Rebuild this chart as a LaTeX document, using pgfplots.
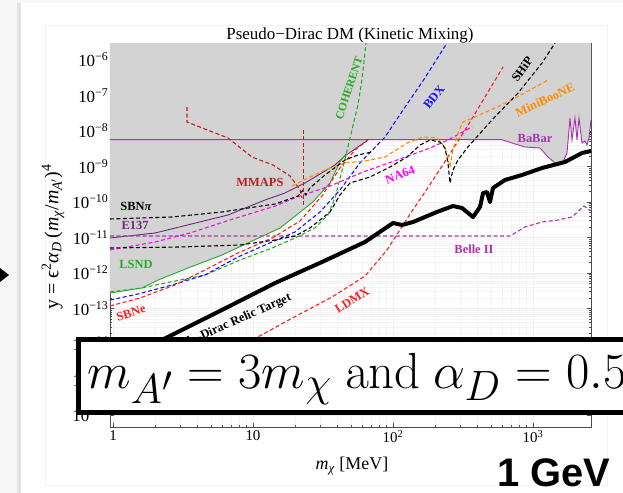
\documentclass[border=0pt]{standalone}
\usepackage[no-math]{fontspec}
\setmainfont{Liberation Serif}
\newfontfamily\arialfont{Liberation Sans}
\usepackage{pgfplots}
\pgfplotsset{compat=1.18}
\definecolor{babar}{RGB}{170,50,175}
\definecolor{eonethree}{RGB}{110,40,120}
\definecolor{grn}{RGB}{40,170,40}
\definecolor{blu}{RGB}{20,20,255}
\definecolor{rd}{RGB}{255,30,30}
\definecolor{mmaps}{RGB}{190,30,30}
\definecolor{org}{RGB}{255,140,0}
\definecolor{mag}{RGB}{255,0,255}
\definecolor{fillgray}{RGB}{211,211,211}
\tikzset{dsh/.style={dash pattern=on 4bp off 2.5bp, line width=1.1bp}}
\begin{document}
\begin{tikzpicture}
\path[use as bounding box] (0,0) rectangle (623bp,493bp);
\begin{scope}[x=1bp,y=-1bp,shift={(0bp,493bp)}]
\fill[gray!6] (0,0) rectangle (623,493);
\fill[gray!22] (17,3) rectangle (623,493);
\fill[white] (21,3) rectangle (623,493);
\draw[gray!10, line width=0.6bp] (45,25) rectangle (607,485);
\end{scope}
\begin{axis}[
  at={(110bp,66bp)}, anchor=south west,
  scale only axis, width=481bp, height=384bp,
  xmode=log, ymode=log,
  xmin=0.952, xmax=2596, ymin=4.59e-17, ymax=3.01e-6,
  axis line style={gray!60!black, line width=0.5pt},
  grid=both,
  major grid style={gray!13, line width=0.4pt},
  minor grid style={gray!9, line width=0.4pt},
  tick align=inside, major tick length=4bp, minor tick length=2.5bp,
  tick style={gray!60!black, line width=0.4pt},
  xtick={1,10,100,1000},
  xticklabels={1,10,10\textsuperscript{2},10\textsuperscript{3}},
  ytick={1e-16,1e-15,1e-14,1e-13,1e-12,1e-11,1e-10,1e-9,1e-8,1e-7,1e-6},
  yticklabels={10\textsuperscript{−16},10\textsuperscript{−15},10\textsuperscript{−14},10\textsuperscript{−13},10\textsuperscript{−12},10\textsuperscript{−11},10\textsuperscript{−10},10\textsuperscript{−9},10\textsuperscript{−8},10\textsuperscript{−7},10\textsuperscript{−6}},
  yticklabel style={font=\fontsize{17}{17}\selectfont, inner sep=1.5bp},
  xticklabel style={font=\fontsize{15}{15}\selectfont},
  clip=true,
]
% excluded region
\addplot[fill=fillgray, draw=none, forget plot] coordinates {(0.952,3.01e-6)(0.952,2.73e-13)(1.61,3.78e-13)(2.10,6.35e-13)(3.43,1.38e-12)(6.00,3.21e-12)(9.52,7.47e-12)(15.6,1.85e-11)(26.8,1.00e-10)(35.5,3.43e-10)(41.8,1.34e-9)(46.2,2.25e-9)(63.1,4.89e-9)(66.3,5.69e-9)(600,5.69e-9)(744,4.30e-9)(877,3.54e-9)(1122,3.32e-9)(1280,1.85e-9)(1436,1.26e-9)(1611,1.18e-9)(1750,2.40e-9)(1838,2.32e-8)(1899,5.58e-9)(1995,2.32e-8)(2062,5.58e-9)(2131,2.32e-8)(2239,4.59e-9)(2351,5.22e-9)(2430,4.03e-9)(2512,6.35e-9)(2596,2.04e-8)(2596,3.01e-6)};
% BaBar
\addplot[babar, line width=0.9bp] coordinates {(0.952,5.69e-9)(600,5.69e-9)(744,4.30e-9)(877,3.54e-9)(1122,3.32e-9)(1280,1.85e-9)(1436,1.26e-9)(1611,1.18e-9)(1750,2.40e-9)(1838,2.32e-8)(1899,5.58e-9)(1995,2.32e-8)(2062,5.58e-9)(2131,2.32e-8)(2239,4.59e-9)(2351,5.22e-9)(2430,4.03e-9)(2512,6.35e-9)(2596,2.04e-8)};
% E137
\addplot[eonethree, line width=0.9bp] coordinates {(0.952,9.68e-12)(2.0,1.34e-11)(6.63,4.30e-11)(12.2,1.14e-10)(16.9,1.79e-10)(23.5,3.43e-10)(30.1,6.15e-10)(38.5,1.10e-9)(45.4,1.98e-9)(63.1,4.89e-9)(66.3,5.69e-9)};
% LSND
\addplot[grn, line width=0.9bp] coordinates {(0.952,2.73e-13)(1.61,3.78e-13)(2.10,6.35e-13)(3.43,1.38e-12)(6.00,3.21e-12)(9.52,7.47e-12)(15.6,1.85e-11)(26.8,1.00e-10)(35.5,3.43e-10)(41.8,1.34e-9)(46.2,2.25e-9)};
% Belle II
\addplot[babar, dsh] coordinates {(0.952,1.10e-11)(685,1.10e-11)(877,1.98e-11)(1160,2.73e-11)(1509,3.11e-11)(1899,3.78e-11)(2313,7.71e-11)(2596,5.58e-11)};
% COHERENT
\addplot[grn, dsh] coordinates {(0.952,2.92e-13)(1.61,3.78e-13)(2.77,5.96e-13)(4.54,8.79e-13)(8.08,2.32e-12)(13.7,5.06e-12)(19.95,9.68e-12)(27.7,1.85e-11)(34.3,4.30e-11)(38.5,1.30e-10)(42.5,5.77e-10)(46.2,2.11e-9)(50.9,1.07e-8)(56.2,5.40e-8)(60.0,2.73e-7)(64.1,3.01e-6)};
% BDX
\addplot[blu, dsh] coordinates {(0.952,1.73e-13)(1.51,2.56e-13)(2.64,4.59e-13)(4.54,8.79e-13)(7.81,2.82e-12)(12.2,6.15e-12)(19.95,1.43e-11)(30.1,5.23e-11)(41.8,2.18e-10)(58.1,1.26e-9)(87.7,6.78e-9)(122,4.74e-8)(169,3.11e-7)(243,3.01e-6)};
% SBNe
\addplot[rd, dsh] coordinates {(0.952,1.18e-13)(1.56,1.98e-13)(2.77,4.59e-13)(4.54,1.22e-12)(7.81,3.66e-12)(13.7,9.68e-12)(21.7,2.92e-11)(31.1,1.48e-10)(41.8,9.07e-10)(53.5,2.92e-9)(66.3,5.58e-9)};
% LDMX
\addplot[rd, dsh] coordinates {(6.85,5.96e-15)(12.2,2.04e-14)(21.0,6.56e-14)(36.7,2.11e-13)(63.1,8.22e-13)(90.6,4.45e-12)(134,4.90e-11)(187,3.43e-10)(239,1.52e-9)(338,1.30e-8)(454,9.08e-8)(611,6.36e-7)};
% NA64
\addplot[mag, dsh] coordinates {(0.952,4.45e-12)(2.0,7.47e-12)(3.55,1.34e-11)(6.85,3.11e-11)(14.4,7.71e-11)(20.6,1.38e-10)(35.5,2.82e-10)(61.1,7.00e-10)(107,1.52e-9)(184,3.32e-9)(247,5.58e-9)(367,1.30e-8)};
% MiniBooNE
\addplot[org, dsh] coordinates {(19.0,2.82e-10)(25.5,5.06e-10)(35.5,9.07e-10)(45.4,1.26e-9)(63.1,1.43e-9)(87.7,1.85e-9)(126,4.59e-9)(164,6.78e-9)(206,6.35e-9)(235,3.54e-9)(255,9.68e-10)(268,2.92e-9)(291,8.79e-9)(316,1.79e-8)(385,2.48e-8)(663,6.56e-8)(1280,2.73e-7)};
% SBN pi
\addplot[black, dsh] coordinates {(0.952,3.32e-11)(2.64,3.78e-11)(6.00,5.23e-11)(10.3,7.23e-11)(14.4,8.79e-11)(21.0,1.48e-10)(22.8,2.18e-10)(23.9,1.58e-10)(25.5,2.48e-10)(32.7,5.77e-10)(45.4,1.52e-9)(56.2,2.11e-9)(70.8,2.56e-9)};
% SHiP
\addplot[black, dsh] coordinates {(0.952,5.06e-12)(3.01,5.40e-12)(8.08,6.15e-12)(14.4,8.51e-12)(19.95,1.10e-11)(25.5,1.85e-11)(35.5,5.23e-11)(41.8,1.58e-10)(49.3,3.43e-10)(68.5,5.06e-10)(95.2,9.68e-10)(126,1.85e-9)(156,4.03e-9)(184,5.58e-9)(217,4.89e-9)(235,3.32e-9)(247,1.26e-9)(255,3.43e-10)(268,7.97e-10)(291,1.52e-9)(343,3.54e-9)(509,2.04e-8)(781,1.17e-7)(1160,8.23e-7)(1436,3.01e-6)};
% MMAPS
\addplot[mmaps, dsh] coordinates {(3.38,4.74e-8)(3.38,1.79e-8)(6.63,6.35e-9)(9.84,1.85e-9)(13.9,1.10e-9)(18.4,5.40e-10)(21.7,2.18e-10)(22.4,1.3e-10)};
\addplot[mmaps, dsh] coordinates {(23.1,1.07e-8)(23.1,7.23e-11)};
% Relic target
\addplot[black, line width=4bp, line join=round] coordinates {(0.952,2.40e-15)(2.24,1.30e-14)(5.81,8.51e-14)(14.4,5.23e-13)(31.1,2.04e-12)(63.1,7.47e-12)(100,2.56e-11)(116,2.25e-11)(139,2.73e-11)(206,5.23e-11)(268,7.71e-11)(311,6.78e-11)(373,3.78e-11)(418,7.23e-11)(440,1.79e-10)(469,1.91e-10)(493,1.00e-10)(518,2.48e-10)(631,4.17e-10)(835,5.77e-10)(1160,9.07e-10)(1693,1.34e-9)(2239,2.40e-9)(2596,2.73e-9)};
\end{axis}
\begin{scope}[x=1bp,y=-1bp,shift={(0bp,493bp)}]
\fill[black] (0,268) -- (9,275) -- (0,282) -- cycle;
\node[anchor=base, font=\fontsize{17}{17}\selectfont] at (350,40) {Pseudo−Dirac DM (Kinetic Mixing)};
\node[rotate=90, font=\fontsize{20}{20}\selectfont] at (53,237) {y = ϵ\textsuperscript{2}\textit{α}\textsubscript{\textit{D}}\,(\textit{m}\textsubscript{\textit{χ}}/\textit{m}\textsubscript{\textit{A}$'$})\textsuperscript{4}};
\node[font=\fontsize{18}{18}\selectfont] at (352,466) {\textit{m}\textsubscript{\textit{χ}} [MeV]};
\begin{scope}[every node/.style={font=\fontsize{12.5}{13}\selectfont\bfseries, inner sep=0}]
\node at (136,206) {SBN\textit{π}};
\node[text=eonethree] at (135,225) {E137};
\node[text=grn] at (136,264) {LSND};
\node[text=rd, rotate=18] at (131,313) {SBNe};
\node[text=mmaps] at (260,182) {MMAPS};
\node[text=grn, rotate=72, font=\fontsize{11.5}{12}\selectfont\bfseries] at (349,88) {COHERENT};
\node[text=blu, rotate=52] at (434,97) {BDX};
\node[rotate=55] at (522,69) {SHiP};
\node[text=org, rotate=25] at (545,100) {MiniBooNE};
\node[text=babar] at (535,138) {BaBar};
\node[text=mag, rotate=20] at (400,175) {NA64};
\node[text=babar] at (474,249) {Belle II};
\node[text=rd, rotate=32] at (352,300) {LDMX};
\node[anchor=base east, rotate=24] at (292,300) {Pseudo-Dirac Relic Target};
\end{scope}
\draw[line width=5bp, fill=white] (78,340) rectangle (660,413);
\node[anchor=base west, inner sep=0, scale=2.05] at (87,389) {\Huge $m_{A'} = 3m_\chi\ \mathrm{and}\ \alpha_D = 0.5$};
\node[anchor=base west, inner sep=0, font=\arialfont\bfseries\fontsize{40}{40}\selectfont] at (497,487) {1 GeV};
\end{scope}
\end{tikzpicture}
\end{document}
